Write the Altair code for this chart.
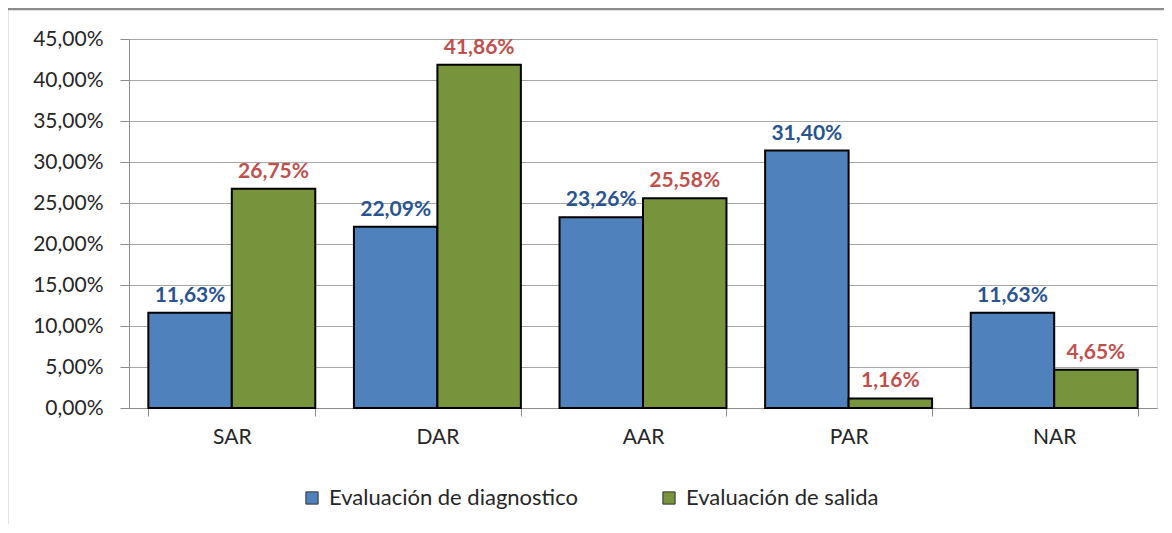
import altair as alt
import pandas as pd

categories = ["SAR", "DAR", "AAR", "PAR", "NAR"]
series = ["Evaluación de diagnostico", "Evaluación de salida"]
diagnostico = [0.1163, 0.2209, 0.2326, 0.3140, 0.1163]
salida = [0.2675, 0.4186, 0.2558, 0.0116, 0.0465]
y_ticks = [0, 0.05, 0.10, 0.15, 0.20, 0.25, 0.30, 0.35, 0.40, 0.45]

bar_colors = ["#4F81BD", "#77933C"]
label_colors = ["#2A5490", "#C0504D"]

rows = []
for i, c in enumerate(categories):
    rows.append({"cat": c, "serie": series[0], "val": diagnostico[i]})
    rows.append({"cat": c, "serie": series[1], "val": salida[i]})
df = pd.DataFrame(rows)

FONT = "Lato"

x = alt.X(
    "cat:N",
    sort=categories,
    scale=alt.Scale(paddingInner=0.188, paddingOuter=0.094),
    axis=alt.Axis(
        title=None, labelAngle=0, tickBand="extent", grid=False,
        domainColor="#8C8C8C", tickColor="#8C8C8C", tickSize=8,
        labelFontSize=21, labelColor="#262626", labelPadding=10, labelFont=FONT,
    ),
)
y = alt.Y(
    "val:Q",
    scale=alt.Scale(domain=[0, 0.45], nice=False),
    axis=alt.Axis(
        title=None, values=y_ticks, format=".2%",
        gridColor="#A6A6A6", gridWidth=1, domainColor="#8C8C8C",
        tickColor="#8C8C8C", tickSize=9, labelPadding=17,
        labelFontSize=21, labelColor="#262626", labelFont=FONT,
    ),
)
xo = alt.XOffset("serie:N", sort=series, scale=alt.Scale(paddingInner=0, paddingOuter=0))

bars = alt.Chart(df).mark_bar(stroke="black", strokeWidth=2).encode(
    x=x, y=y, xOffset=xo,
    color=alt.Color(
        "serie:N", sort=series,
        scale=alt.Scale(domain=series, range=bar_colors),
        legend=alt.Legend(
            title=None, orient="none", direction="horizontal",
            legendX=172, legendY=448, symbolType="square", symbolSize=150,
            symbolStrokeColor="#333333", symbolStrokeWidth=1,
            labelFontSize=22, labelFont=FONT, labelColor="#262626",
            columnPadding=80, labelOffset=6, labelLimit=0,
        ),
    ),
)

labels = alt.Chart(df).mark_text(
    dy=-7, fontSize=21, fontWeight="bold", font=FONT, baseline="bottom"
).encode(
    x=x, y=alt.Y("val:Q"), xOffset=xo,
    text=alt.Text("val:Q", format=".2%"),
    color=alt.Color("serie:N", sort=series,
                    scale=alt.Scale(domain=series, range=label_colors), legend=None),
)

one = pd.DataFrame({"k": [0]})
frame_left = alt.Chart(one).mark_rule(color="#8C8C8C", strokeWidth=2.5).encode(
    x=alt.value(-122), y=alt.value(-30), y2=alt.value(500)
)
frame_top = alt.Chart(one).mark_rule(color="#8C8C8C", strokeWidth=2.5).encode(
    x=alt.value(-122), x2=alt.value(1050), y=alt.value(-30)
)

chart = alt.layer(bars, labels, frame_left, frame_top).resolve_scale(
    color="independent"
).properties(
    width=1028, height=369,
    autosize=alt.AutoSizeParams(type="none"),
    padding={"left": 121, "top": 31, "right": 7, "bottom": 116},
).configure_view(stroke=None).configure(
    locale=alt.Locale(number=alt.NumberLocale(
        decimal=",", thousands=".", grouping=[3], currency=["", "€"]
    ))
)

chart.save("out.html", embed_options={"renderer": "svg", "actions": False})
